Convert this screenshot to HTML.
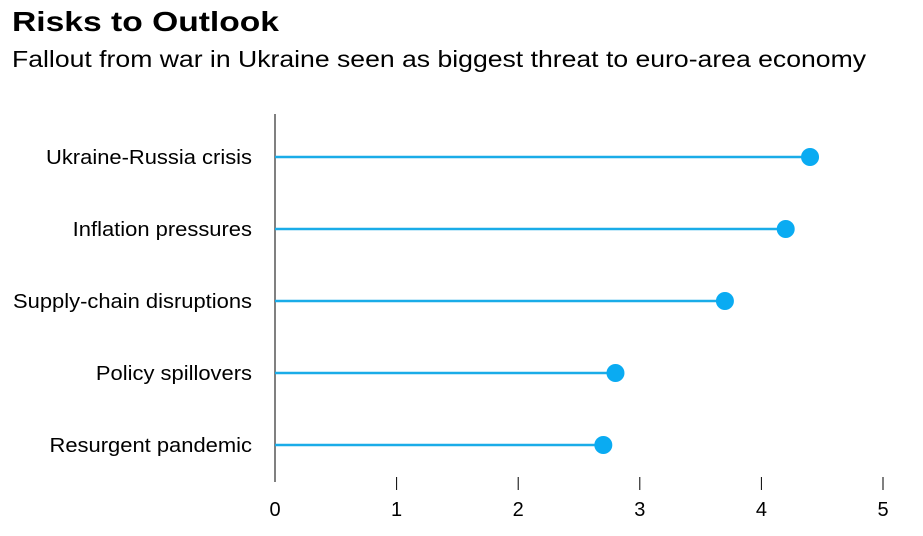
<!DOCTYPE html>
<html><head><meta charset="utf-8"><style>
body{margin:0;background:#fff;width:923px;height:531px;overflow:hidden;font-family:"Liberation Sans",sans-serif}
</style></head><body>
<svg width="923" height="531">
<text x="12" y="31" font-size="28" font-weight="bold" fill="#000" textLength="267" lengthAdjust="spacingAndGlyphs">Risks to Outlook</text>
<text x="12" y="67" font-size="23" fill="#000" textLength="854" lengthAdjust="spacingAndGlyphs">Fallout from war in Ukraine seen as biggest threat to euro-area economy</text>
<g id="plot"></g>
</svg>
<script>
const categories=["Ukraine-Russia crisis","Inflation pressures","Supply-chain disruptions","Policy spillovers","Resurgent pandemic"];
const values=[4.4,4.2,3.7,2.8,2.7];
const ticks=[0,1,2,3,4,5];
const ns="http://www.w3.org/2000/svg";
const g=document.getElementById('plot');
const x=v=>275+v*121.6;
const y=i=>157+i*72;
function mk(t,a){const e=document.createElementNS(ns,t);for(const k in a)e.setAttribute(k,a[k]);g.appendChild(e);return e;}
let ax=mk('line',{x1:275,x2:275,y1:114,y2:482,stroke:'#000','stroke-width':1});


ticks.forEach(t=>{
 if(t>0){let l=mk('line',{x1:x(t),x2:x(t),y1:477,y2:490,stroke:'#000','stroke-width':1});
 
 }
 let tx=mk('text',{x:x(t),y:516,'font-size':20,'text-anchor':'middle',fill:'#000'});tx.textContent=t;
 
 
});
categories.forEach((c,i)=>{
 let lab=mk('text',{x:252,y:y(i)+7,'font-size':20,'text-anchor':'end',fill:'#000'});lab.textContent=c;
 
 
 const w=lab.getComputedTextLength();
 lab.setAttribute('textLength',(w*1.097).toFixed(1));
 lab.setAttribute('lengthAdjust','spacingAndGlyphs');
 let ln=mk('line',{x1:x(0),x2:x(values[i]),y1:y(i),y2:y(i),stroke:'#1aace8','stroke-width':2.5});
 
 
 let d=mk('circle',{cx:x(values[i]),cy:y(i),r:9,fill:'#0aabf2'});
 
 
});
</script>
</body></html>
